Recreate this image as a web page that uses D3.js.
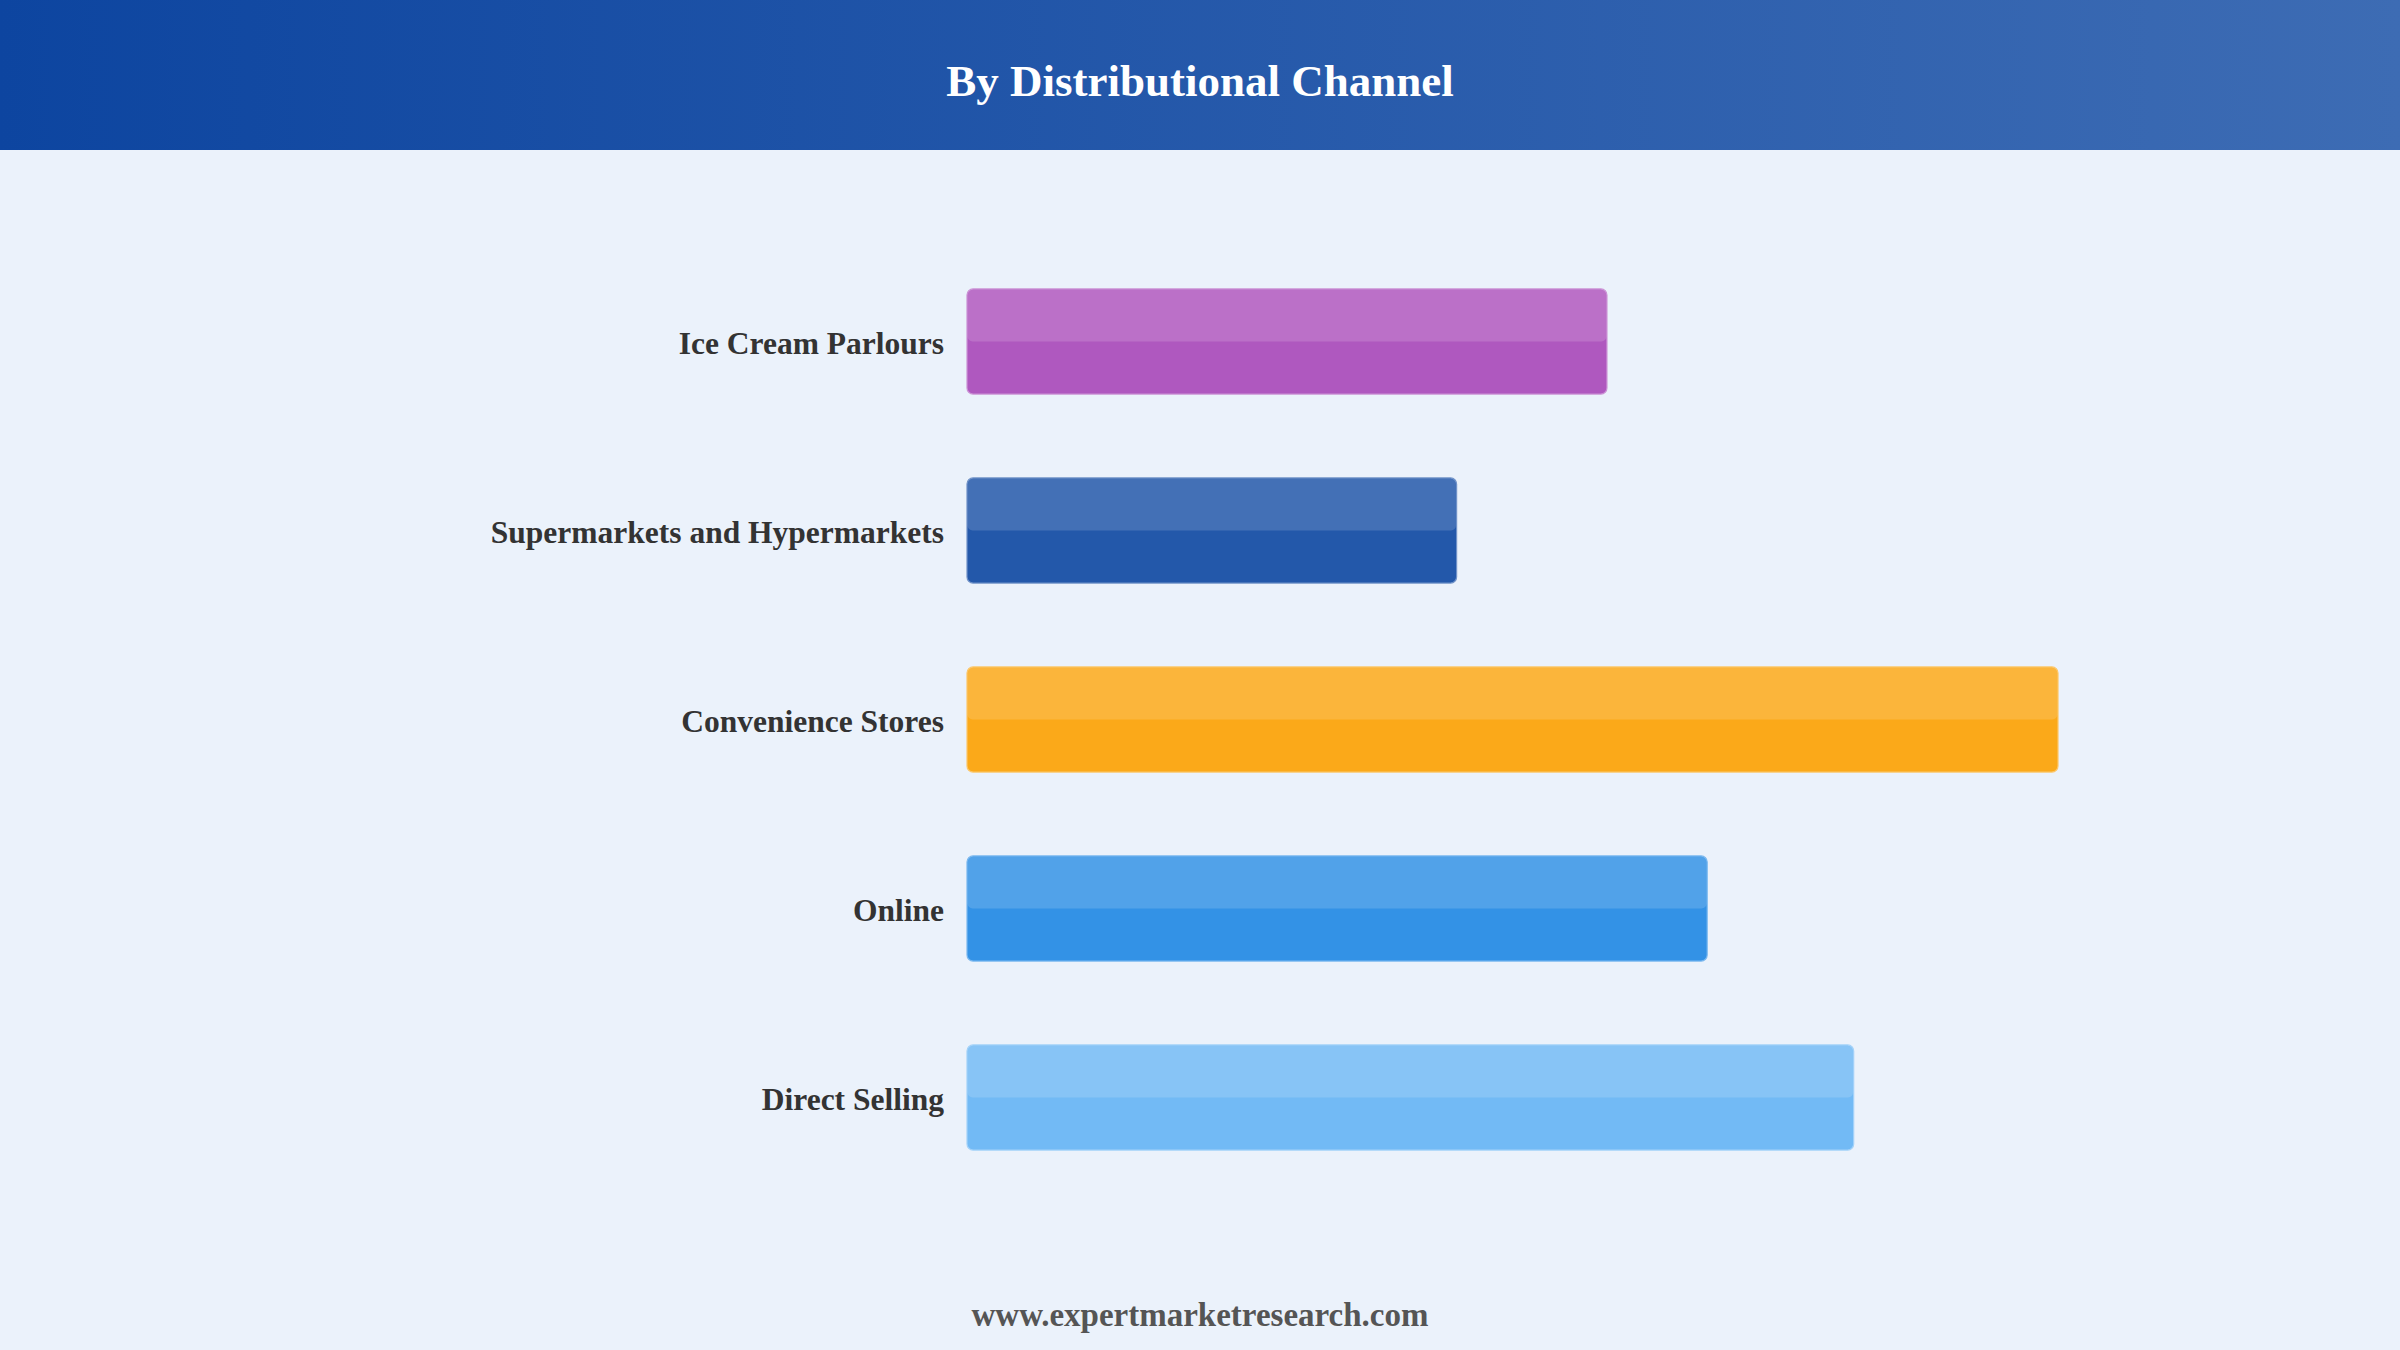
<!DOCTYPE html>
<html>
<head>
<meta charset="utf-8">
<script src="https://cdn.jsdelivr.net/npm/d3@7"></script>
<style>
  html, body { margin: 0; padding: 0; background: #EBF2FB; }
  svg { display: block; }
</style>
</head>
<body>
<svg id="chart" width="2400" height="1350"></svg>
<script>
const categories = ["Ice Cream Parlours", "Supermarkets and Hypermarkets", "Convenience Stores", "Online", "Direct Selling"];
const values = [16.6, 12.7, 28.3, 19.2, 23.0];
const colors = ["#AF58BF", "#2358AA", "#FBA919", "#3392E6", "#72BAF5"];
const titleText = "By Distributional Channel";
const footerText = "www.expertmarketresearch.com";

const W = 2400, H = 1350;
const svg = d3.select("#chart");

const defs = svg.append("defs");
const grad = defs.append("linearGradient").attr("id", "hdr").attr("x1", "0%").attr("x2", "100%").attr("y1", "0%").attr("y2", "0%");
grad.append("stop").attr("offset", "0%").attr("stop-color", "#0D45A0");
grad.append("stop").attr("offset", "100%").attr("stop-color", "#3D6CB4");

svg.append("rect").attr("x", 0).attr("y", 0).attr("width", W).attr("height", H).attr("fill", "#EBF2FB");
svg.append("rect").attr("x", 0).attr("y", 0).attr("width", W).attr("height", 150).attr("fill", "url(#hdr)");

svg.append("text")
  .attr("x", W / 2).attr("y", 96)
  .attr("text-anchor", "middle")
  .attr("font-family", "'Liberation Serif', 'Times New Roman', serif")
  .attr("font-weight", "bold")
  .attr("font-size", 45)
  .attr("fill", "#ffffff")
  .text(titleText);

const x0 = 967;
const x = d3.scaleLinear().domain([0, d3.max(values)]).range([x0, x0 + 1091]);
const y = d3.scaleBand().domain(categories).range([247, 1192]).paddingInner(0.444).paddingOuter(0.222);

const data = categories.map((c, i) => ({ c, v: values[i], col: colors[i] }));

const g = svg.append("g");
const bars = g.selectAll("g.bar").data(data).enter().append("g").attr("class", "bar");

bars.append("rect")
  .attr("x", x(0))
  .attr("y", d => y(d.c))
  .attr("width", d => x(d.v) - x(0))
  .attr("height", y.bandwidth())
  .attr("rx", 6).attr("ry", 6)
  .attr("fill", d => d.col)
  .attr("stroke", d => d3.interpolateRgb(d.col, "#ffffff")(0.35))
  .attr("stroke-width", 1.2);

bars.append("rect")
  .attr("x", x(0) + 0.6)
  .attr("y", d => y(d.c) + 0.6)
  .attr("width", d => x(d.v) - x(0) - 1.2)
  .attr("height", y.bandwidth() / 2 - 0.6)
  .attr("rx", 5).attr("ry", 5)
  .attr("fill", "#ffffff")
  .attr("fill-opacity", 0.15);

bars.append("text")
  .attr("x", x(0) - 23)
  .attr("y", d => y(d.c) + y.bandwidth() / 2 + 12)
  .attr("text-anchor", "end")
  .attr("font-family", "'Liberation Serif', 'Times New Roman', serif")
  .attr("font-weight", "bold")
  .attr("font-size", 31.5)
  .attr("fill", "#333333")
  .text(d => d.c);

svg.append("text")
  .attr("x", W / 2).attr("y", 1326)
  .attr("text-anchor", "middle")
  .attr("font-family", "'Liberation Serif', 'Times New Roman', serif")
  .attr("font-weight", "bold")
  .attr("font-size", 33)
  .attr("fill", "#555555")
  .text(footerText);
</script>
</body>
</html>
